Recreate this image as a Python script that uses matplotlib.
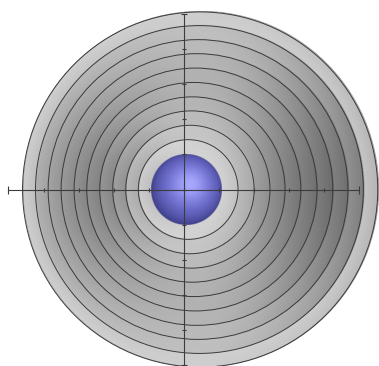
import numpy as np
import matplotlib
matplotlib.use("Agg")
import matplotlib.pyplot as plt
from matplotlib.patches import Circle

# Nested shells around a unit core (radii and horizontal centre shift, in axis units)
core_radius = 1.0
core_shift = 0.06
shell_radii = [1.42, 1.83, 2.24, 2.64, 3.05, 3.46, 3.87, 4.27, 4.67, 5.06]
shell_shift = [0.12, 0.17, 0.21, 0.24, 0.28, 0.33, 0.37, 0.40, 0.44, 0.46]

# Axis ticks
axis_ticks = list(range(-5, 6))

# Grey level of each shell band seen from the top, the left and the right
band_top = [210, 198, 188, 181, 178, 178, 181, 186, 191, 206]
band_left = [196, 176, 152, 141, 136, 138, 145, 155, 168, 198]
band_right = [200, 176, 150, 134, 124, 119, 115, 119, 134, 188]

fig = plt.figure(figsize=(3.79, 3.66), dpi=100)
ax = fig.add_axes([0, 0, 1, 1])
ax.set_xlim(-5.242, 5.556)
ax.set_ylim(-5.028, 5.399)
ax.set_axis_off()

# Shaded shell bands
n = 900
R = shell_radii[-1]
x0, x1 = shell_shift[-1] - R, shell_shift[-1] + R
y0, y1 = -R, R
xs = np.linspace(x0, x1, n)
ys = np.linspace(y1, y0, n)
X, Y = np.meshgrid(xs, ys)

gray = np.full(X.shape, np.nan)
assigned = np.zeros(X.shape, bool)
inner_r = [core_radius] + shell_radii[:-1]
for k, (rk, sk) in enumerate(zip(shell_radii, shell_shift)):
    d = np.hypot(X - sk, Y)
    inside = (d <= rk) & ~assigned
    c = np.where(d > 0, (X - sk) / np.maximum(d, 1e-9), 0.0)
    side = np.where(c < 0, band_left[k], band_right[k])
    g = band_top[k] + (side - band_top[k]) * c ** 2
    t = np.clip((d - inner_r[k]) / (rk - inner_r[k]), 0, 1)
    g = g + 16 * (t - 0.5) * (-c)
    gray[inside] = g[inside]
    assigned |= inside

img = np.zeros(X.shape + (4,))
v = np.nan_to_num(gray) / 255.0
img[..., 0] = v
img[..., 1] = v
img[..., 2] = v
img[..., 3] = assigned.astype(float)
ax.imshow(img, extent=(x0, x1, y0, y1), origin="upper", interpolation="bilinear", zorder=1)

# Shell outlines
for rk, sk in zip(shell_radii, shell_shift):
    ax.add_patch(Circle((sk, 0), rk, fill=False, edgecolor="#3a3a3a", lw=0.7, zorder=2))

# Blue core sphere
m = 400
cx = np.linspace(core_shift - core_radius, core_shift + core_radius, m)
cy = np.linspace(core_radius, -core_radius, m)
CX, CY = np.meshgrid(cx, cy)
u = (CX - core_shift) / core_radius
w = CY / core_radius
rr = u ** 2 + w ** 2
inside = rr <= 1
nz = np.sqrt(np.clip(1 - rr, 0, 1))
L = np.array([0.1, 0.15, 1.0])
L = L / np.linalg.norm(L)
I = np.clip(u * L[0] + w * L[1] + nz * L[2], 0, 1)
edge = np.array([0.25, 0.25, 0.55])
hi = np.array([0.50, 0.50, 0.90])
col = edge + (hi - edge) * (I[..., None] ** 1.4)
spec = (I ** 10)[..., None] * np.array([0.16, 0.16, 0.10])
col = np.clip(col + spec, 0, 1)
sph = np.zeros(CX.shape + (4,))
sph[..., :3] = col
sph[..., 3] = inside.astype(float)
ax.imshow(sph, extent=(cx[0], cx[-1], cy[-1], cy[0]), origin="upper",
          interpolation="bilinear", zorder=3)

# Axes through the origin with ticks
axis_col = "#3c3c3c"
ax.plot([axis_ticks[0], axis_ticks[-1]], [0, 0], color=axis_col, lw=0.8, zorder=4)
ax.plot([0, 0], [axis_ticks[0], axis_ticks[-1]], color=axis_col, lw=0.8, zorder=4)
inner_ticks = axis_ticks[1:-1]
ax.plot(inner_ticks, [0] * len(inner_ticks), ls="none", marker="|", ms=3.5,
        mew=0.8, color=axis_col, zorder=4)
ax.plot([0] * len(inner_ticks), inner_ticks, ls="none", marker="_", ms=3.5,
        mew=0.8, color=axis_col, zorder=4)
ends = [axis_ticks[0], axis_ticks[-1]]
ax.plot(ends, [0, 0], ls="none", marker="|", ms=6, mew=0.8, color=axis_col, zorder=4)
ax.plot([0, 0], ends, ls="none", marker="_", ms=5, mew=0.8, color=axis_col, zorder=4)

fig.savefig("out.png", dpi=100, facecolor="white")
